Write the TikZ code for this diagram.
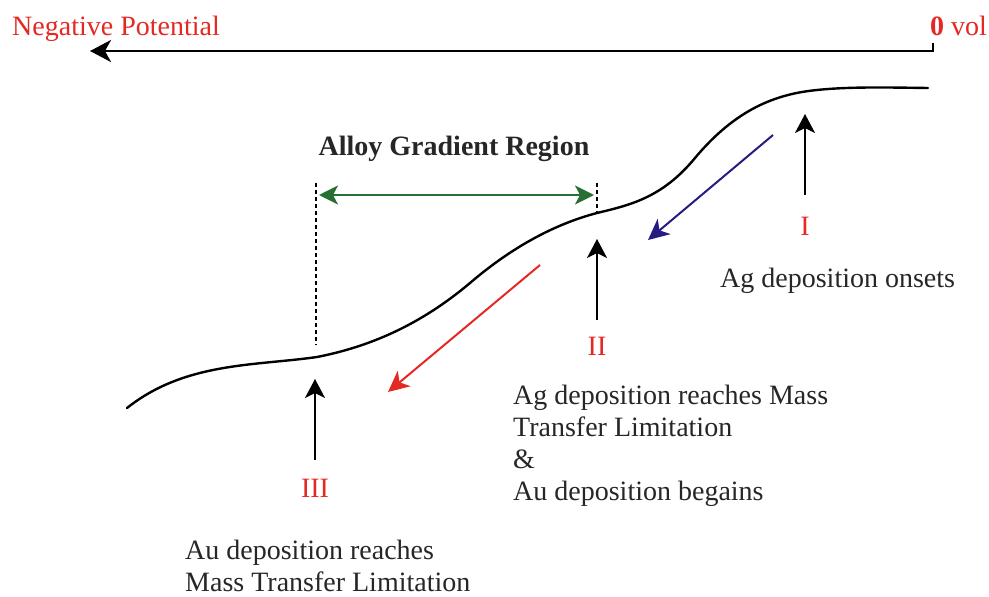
\documentclass[tikz,border=0pt]{standalone}
\usepackage{fontspec}
\setmainfont{Liberation Serif}
\usetikzlibrary{arrows.meta}

\definecolor{potred}{RGB}{228,40,36}
\definecolor{gradgreen}{RGB}{38,112,52}
\definecolor{agblue}{RGB}{36,28,128}

\tikzset{
    lbl/.style={font=\fontsize{28}{32}\selectfont, inner sep=0pt, text=black!85},
    stagelbl/.style={lbl, text=potred},
    rise/.style={-{Stealth[length=19pt,width=20pt,inset=5pt]}, line width=2.3pt},
    sweep/.style={-{Stealth[length=21pt,width=20pt,inset=6pt]}, line width=2pt},
    edge line/.style={line width=2.2pt, dash pattern=on 4pt off 3pt},
}

\begin{document}
\begin{tikzpicture}[x=1pt, y=-1pt, >=Stealth]
        \useasboundingbox (0,0) rectangle (989,597);

        % potential axis
        \coordinate (zero) at (933,43);
        \coordinate (axisend) at (90,51);
        \draw [line width=2.5pt, -{Stealth[length=21pt,width=22pt,inset=6pt]}] (zero) -- (933,51) -- (axisend);
        \node [lbl, text=potred, anchor=base west] (neg) at (12,35) {Negative Potential};
        \node [lbl, text=potred, anchor=base west] (zv) at (930,35) {\textbf{0} vol};

        % polarisation curve
        \draw [line width=2.4pt, line cap=round]
            (127,408) .. controls (185,362) and (254,366) .. (317,357)
                      .. controls (368,347) and (419,326) .. (470,283)
                      .. controls (512,247) and (555,224) .. (597,213)
                      .. controls (630,205) and (662,198) .. (695,158)
                      .. controls (736,109) and (776,94) .. (817,90)
                      .. controls (850,86.5) and (890,87.5) .. (928,88);

        % alloy gradient region
        \coordinate (lefttop) at (316,183);
        \coordinate (leftbot) at (316,345);
        \coordinate (righttop) at (597,183);
        \coordinate (rightbot) at (597,212);
        \draw [edge line] (lefttop) -- (leftbot);
        \draw [edge line] (righttop) -- (rightbot);
        \coordinate (gl) at (319,195);
        \coordinate (gr) at (594,195);
        \draw [line width=2pt, gradgreen, {Stealth[length=19pt,width=19pt,inset=5pt]}-{Stealth[length=19pt,width=19pt,inset=5pt]}] (gl) -- (gr);
        \node [lbl, font=\fontsize{28}{32}\selectfont\bfseries, anchor=base] (agr) at (454,155) {Alloy Gradient Region};

        % sweep direction
        \coordinate (bluestart) at (773,135);
        \coordinate (blueend) at (648,240);
        \draw [sweep, agblue] (bluestart) -- (blueend);
        \coordinate (redstart) at (540,265);
        \coordinate (redend) at (388,392);
        \draw [sweep, potred] (redstart) -- (redend);

        % stages
        \node [stagelbl, anchor=base] (sI) at (805,235) {I};
        \node [stagelbl, anchor=base] (sII) at (597,355) {II};
        \node [stagelbl, anchor=base] (sIII) at (315,497) {III};
        \coordinate (tI) at (805,195);
        \coordinate (hI) at (805,114);
        \coordinate (tII) at (597,320);
        \coordinate (hII) at (597,239);
        \coordinate (tIII) at (315,460);
        \coordinate (hIII) at (315,379);
        \draw [rise] (tI) -- (hI);
        \draw [rise] (tII) -- (hII);
        \draw [rise] (tIII) -- (hIII);

        \node [lbl, anchor=base west] (onset) at (720,287) {Ag deposition onsets};
        \node [lbl, anchor=north west, align=left] (limAg) at (513,385)
            {Ag deposition reaches Mass\\Transfer Limitation\\\&\\Au deposition begains};
        \node [lbl, anchor=north west, align=left] (limAu) at (185,540)
            {Au deposition reaches\\Mass Transfer Limitation};
\end{tikzpicture}
\end{document}
